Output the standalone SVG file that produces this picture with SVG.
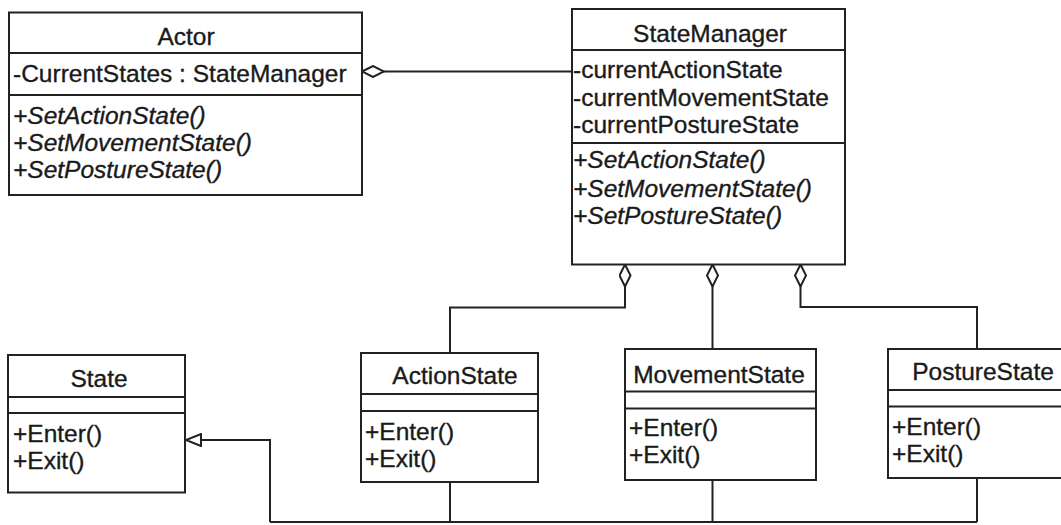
<svg xmlns="http://www.w3.org/2000/svg" width="1061" height="525" viewBox="0 0 1061 525">
  <style>
    .box { fill: #ffffff; stroke: #222222; stroke-width: 2; }
    .sep { stroke: #222222; stroke-width: 2; fill: none; }
    .link { stroke: #222222; stroke-width: 2; fill: none; }
    text { font-family: "Liberation Sans", Arial, Helvetica, sans-serif; font-size: 24.5px; fill: #1a1a1a; stroke: #1a1a1a; stroke-width: 0.35; }
    .title { text-anchor: middle; }
    .op { font-style: italic; }
  </style>
  <defs>
    <!-- hollow diamond: aggregation end, drawn along the path direction -->
    <marker id="diamond" markerUnits="userSpaceOnUse" markerWidth="24" markerHeight="13" viewBox="-1 -1 24 13" refX="0" refY="5.5" orient="auto">
      <path d="M0,5.5 L11,0 L22,5.5 L11,11 Z" fill="#ffffff" stroke="#222222" stroke-width="2"/>
    </marker>
    <!-- hollow triangle: generalization arrowhead -->
    <marker id="triangle" markerUnits="userSpaceOnUse" markerWidth="18" markerHeight="14" viewBox="-1 -1 18 14" refX="15" refY="6" orient="auto">
      <path d="M0,0 L15,6 L0,12 Z" fill="#ffffff" stroke="#222222" stroke-width="2"/>
    </marker>
  </defs>

  <rect width="1061" height="525" fill="#ffffff"/>

  <g id="connectors">
    <!-- Actor aggregates StateManager -->
    <path class="link" d="M362,71.5 H572" marker-start="url(#diamond)"/>
    <!-- StateManager aggregates the three concrete states -->
    <path class="link" d="M625,264.5 V307.5 H450 V353" marker-start="url(#diamond)"/>
    <path class="link" d="M712.5,264.5 V349" marker-start="url(#diamond)"/>
    <path class="link" d="M800.5,264.5 V307 H977 V349" marker-start="url(#diamond)"/>
    <!-- generalization tree to State -->
    <path class="link" d="M450,482 V522 M712.5,480 V522 M977,478 V522 M977,522 H270"/>
    <path class="link" d="M270,522 V440 H186" marker-end="url(#triangle)"/>
  </g>

  <g id="actor">
    <rect class="box" x="9" y="12.5" width="353" height="182.5"/>
    <path class="sep" d="M9,53 H362 M9,95 H362"/>
    <text class="title" x="186" y="45">Actor</text>
    <text x="13" y="82">-CurrentStates : StateManager</text>
    <text class="op" x="13" y="123.5">+SetActionState()</text>
    <text class="op" x="13" y="151">+SetMovementState()</text>
    <text class="op" x="13" y="178">+SetPostureState()</text>
  </g>

  <g id="stateManager">
    <rect class="box" x="572" y="9" width="273" height="255.5"/>
    <path class="sep" d="M572,50 H845 M572,143 H845"/>
    <text class="title" x="710" y="42">StateManager</text>
    <text x="573" y="77.5" font-size="25.2">-currentActionState</text>
    <text x="573" y="105.5" font-size="25.2">-currentMovementState</text>
    <text x="573" y="133" font-size="25.2">-currentPostureState</text>
    <text class="op" x="573" y="168">+SetActionState()</text>
    <text class="op" x="573" y="196.5">+SetMovementState()</text>
    <text class="op" x="573" y="224">+SetPostureState()</text>
  </g>

  <g id="state">
    <rect class="box" x="8" y="355" width="177" height="137.5"/>
    <path class="sep" d="M8,397 H185 M8,413 H185"/>
    <text class="title" x="99" y="387">State</text>
    <text x="13" y="442">+Enter()</text>
    <text x="13" y="469">+Exit()</text>
  </g>

  <g id="actionState">
    <rect class="box" x="361" y="353" width="177" height="129"/>
    <path class="sep" d="M361,394 H538 M361,411 H538"/>
    <text class="title" x="455" y="384">ActionState</text>
    <text x="365" y="440">+Enter()</text>
    <text x="365" y="467">+Exit()</text>
  </g>

  <g id="movementState">
    <rect class="box" x="625" y="349" width="191" height="131"/>
    <path class="sep" d="M625,391.5 H816 M625,408.5 H816"/>
    <text class="title" x="719" y="383">MovementState</text>
    <text x="629" y="436">+Enter()</text>
    <text x="629" y="463">+Exit()</text>
  </g>

  <g id="postureState">
    <rect class="box" x="888" y="349" width="190" height="129"/>
    <path class="sep" d="M888,390 H1078 M888,406.5 H1078"/>
    <text class="title" x="983" y="380">PostureState</text>
    <text x="892" y="435">+Enter()</text>
    <text x="892" y="462">+Exit()</text>
  </g>
</svg>
